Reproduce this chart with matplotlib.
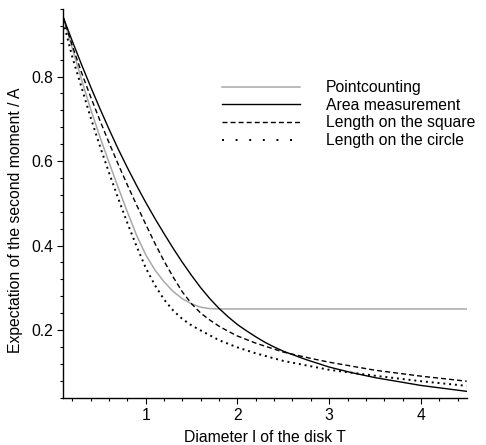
import matplotlib
matplotlib.use("Agg")
import matplotlib.pyplot as plt
from matplotlib.lines import Line2D
from matplotlib.ticker import MultipleLocator, FixedLocator

plt.rcParams['font.family'] = ['Liberation Sans', 'DejaVu Sans']

# values
x_point = [0.1, 0.2, 0.3, 0.4, 0.5, 0.6, 0.7, 0.8, 0.9, 1.0, 1.1, 1.2, 1.3, 1.4, 1.5, 1.6, 1.7, 1.8, 4.5]
y_point = [0.94, 0.866, 0.792, 0.722, 0.657, 0.596, 0.537, 0.479, 0.424, 0.378, 0.342, 0.314, 0.291,
           0.274, 0.262, 0.254, 0.2507, 0.25, 0.25]

x_area = [0.1, 0.2, 0.3, 0.4, 0.5, 0.6, 0.7, 0.8, 0.9, 1.0, 1.1, 1.2, 1.3, 1.4, 1.5, 1.6, 1.7, 1.8,
          1.9, 2.0, 2.1, 2.2, 2.3, 2.4, 2.5, 2.75, 3.0, 3.25, 3.5, 4.0, 4.5]
y_area = [0.94, 0.883, 0.828, 0.775, 0.724, 0.675, 0.628, 0.584, 0.542, 0.502, 0.464, 0.428, 0.393,
          0.360, 0.329, 0.300, 0.274, 0.251, 0.231, 0.213, 0.198, 0.184, 0.171, 0.160, 0.150, 0.130,
          0.1125, 0.099, 0.0875, 0.069, 0.055]

x_square = [0.1, 0.2, 0.3, 0.4, 0.5, 0.6, 0.7, 0.8, 0.9, 1.0, 1.1, 1.2, 1.3, 1.4, 1.5, 1.6, 1.7, 1.8,
            1.9, 2.0, 2.2, 2.5, 2.8, 3.0, 3.5, 4.0, 4.5]
y_square = [0.94, 0.872, 0.809, 0.751, 0.696, 0.643, 0.592, 0.543, 0.496, 0.450, 0.405, 0.363, 0.325,
            0.290, 0.262, 0.240, 0.2235, 0.209, 0.197, 0.186, 0.169, 0.148, 0.133, 0.124, 0.105,
            0.091, 0.079]

x_circle = [0.1, 0.2, 0.3, 0.4, 0.5, 0.6, 0.7, 0.8, 0.9, 1.0, 1.1, 1.2, 1.3, 1.4, 1.5, 1.6, 1.8,
            2.0, 2.2, 2.5, 3.0, 3.5, 4.0, 4.5]
y_circle = [0.93, 0.845, 0.774, 0.702, 0.635, 0.572, 0.511, 0.453, 0.398, 0.347, 0.306, 0.272, 0.246,
            0.226, 0.211, 0.199, 0.176, 0.159, 0.145, 0.127, 0.106, 0.092, 0.079, 0.068]

labels = ['Pointcounting', 'Area measurement', 'Length on the square', 'Length on the circle']

FS = 11.3
gray = '#a8a8a8'
dash = (0, (3.6, 2.2))

fig = plt.figure(figsize=(4.86, 4.45), dpi=100)
ax = fig.add_axes([0.1302, 0.1049, 0.8301, 0.8749])

ax.plot(x_point, y_point, color=gray, lw=1.1)
ax.plot(x_area, y_area, color='black', lw=1.0)
ax.plot(x_square, y_square, color='black', lw=1.0, linestyle=dash)
ax.plot(x_circle, y_circle, color='black', lw=1.4, linestyle=(0, (1, 2.0)))

ax.set_xlim(0.1, 4.5)
ax.set_ylim(0.0385, 0.96)

for side in ['top', 'right']:
    ax.spines[side].set_visible(False)
for side in ['left', 'bottom']:
    ax.spines[side].set_linewidth(1.0)

ax.xaxis.set_major_locator(FixedLocator([1, 2, 3, 4]))
ax.xaxis.set_minor_locator(MultipleLocator(0.2))
ax.yaxis.set_major_locator(FixedLocator([0.2, 0.4, 0.6, 0.8]))
ax.yaxis.set_minor_locator(MultipleLocator(0.04))
ax.set_xticklabels(['1', '2', '3', '4'])
ax.set_yticklabels(['0.2', '0.4', '0.6', '0.8'])
ax.tick_params(which='major', length=4, width=0.8, labelsize=FS, pad=3)
ax.tick_params(which='minor', length=2.5, width=0.8)

ax.set_xlabel('Diameter l of the disk T', fontsize=FS, labelpad=5)
fig.text(16 / 486, 1 - 220 / 445, 'Expectation of the second moment / A', fontsize=FS,
         rotation=90, ha='center', va='center')

# legend keys (the dotted key has wider dot spacing, as in the original)
handles = [
    Line2D([], [], color=gray, lw=1.1),
    Line2D([], [], color='black', lw=1.0),
    Line2D([], [], color='black', lw=1.0, linestyle=dash),
    Line2D([], [], color='black', lw=1.4, linestyle=(0, (1, 6.0))),
]
ax.legend(handles, labels, loc='upper left', bbox_to_anchor=(222 / 486, 1 - 80 / 445),
          bbox_transform=fig.transFigure, frameon=False, fontsize=FS, handlelength=5.0,
          handletextpad=1.6, labelspacing=0.17, borderpad=0, borderaxespad=0)

fig.savefig('out.png', dpi=100)
